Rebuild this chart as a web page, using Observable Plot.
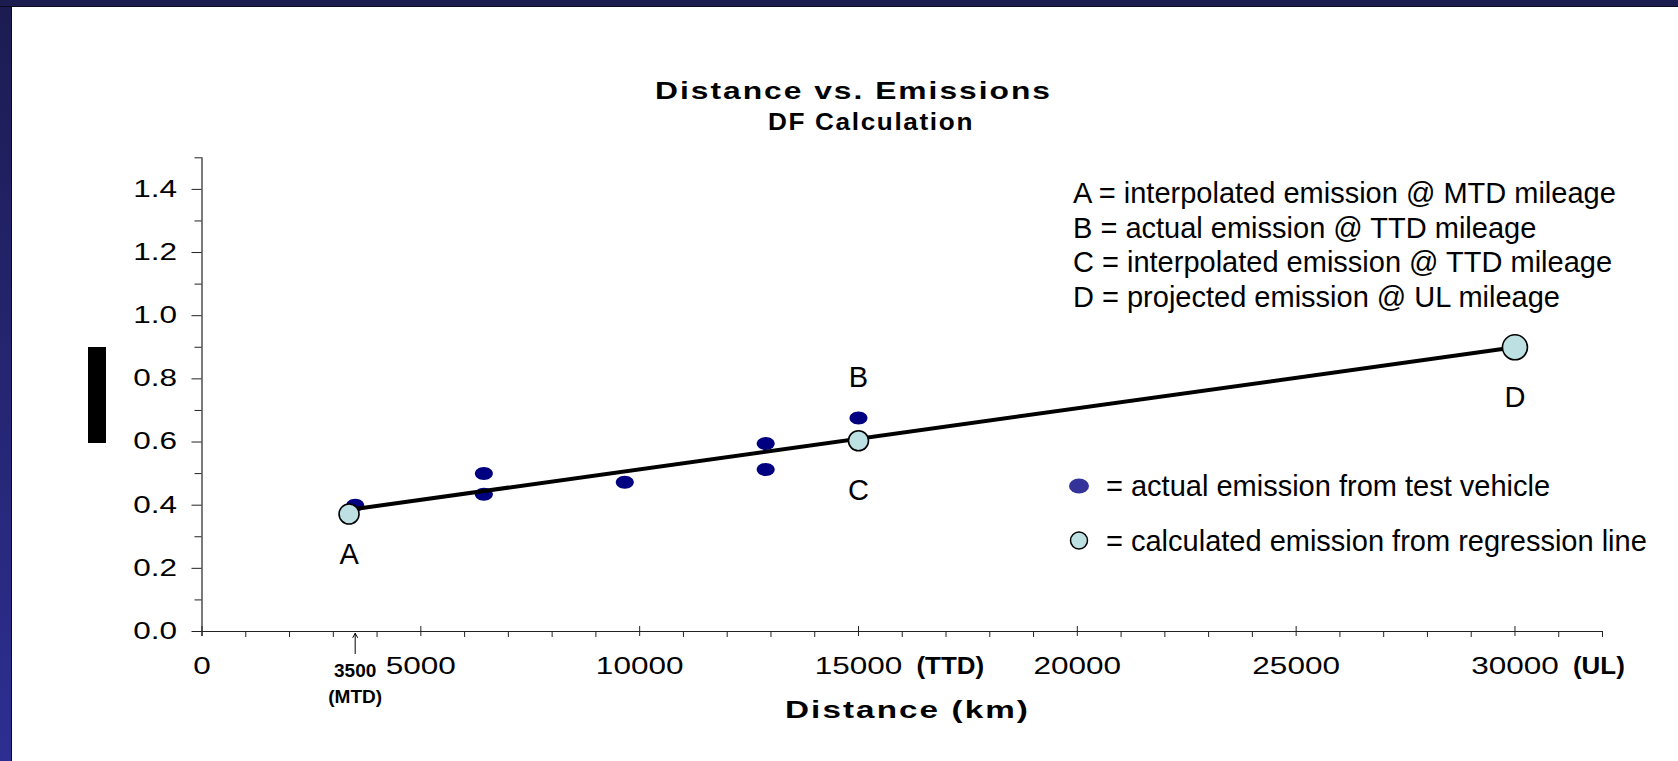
<!DOCTYPE html>
<html>
<head>
<meta charset="utf-8">
<script src="https://cdn.jsdelivr.net/npm/d3@7"></script>
<script src="https://cdn.jsdelivr.net/npm/@observablehq/plot@0.6"></script>
<style>
html, body { margin: 0; padding: 0; width: 1678px; height: 761px; overflow: hidden; background: #fff; font-family: "Liberation Sans", Arial, sans-serif; }
#frameLeft { position: absolute; left: 0; top: 0; width: 11px; height: 761px; background: linear-gradient(#1c1c52, #2e2e92); border-right: 1px solid #0a0a20; }
#frameTop { position: absolute; left: 0; top: 0; width: 1678px; height: 6px; background: #1c1c50; border-bottom: 1px solid #0a0a20; }
#chart { position: absolute; left: 12px; top: 7px; }
.abs { position: absolute; white-space: nowrap; display: inline-block; color: #000; }
.title { font-weight: bold; font-size: 24px; letter-spacing: 1.5px; line-height: 28px; }
.note { font-size: 29px; line-height: 34px; }
#ylabelBlock { position: absolute; left: 88px; top: 347px; width: 18px; height: 96px; background: #000; }
</style>
</head>
<body>
<div id="frameLeft"></div>
<div id="frameTop"></div>
<div id="chart"></div>
<div id="ylabelBlock"></div>
<div class="abs title" id="t1" style="left:655px; top:77px;">Distance vs. Emissions</div>
<div class="abs title" id="t2" style="left:768px; top:108px;">DF Calculation</div>
<div class="abs title" id="xlab" style="left:785px; top:696px;">Distance (km)</div>
<div id="notes"></div>
<svg id="legendSym" style="position:absolute;left:0;top:0;width:1678px;height:761px;pointer-events:none;overflow:visible"></svg>
<script>
// ---------- data ----------
const actualKm = [3500, 6440, 6440, 9660, 12880, 12880, 15000];
const actualEmission = [0.40, 0.50, 0.435, 0.473, 0.595, 0.513, 0.676];
const actualLabels = ["", "", "", "", "", "", "B"];

const calcLabels = ["A", "C", "D"];
const calcKm = [3360, 15000, 30000];
const calcEmission = [0.372, 0.604, 0.90];

const lineKm = [3500, 30000];
const lineEmission = [0.388, 0.90];

const milestoneKm = [3500, 15000, 30000];
const milestoneNames = ["MTD", "TTD", "UL"];

const xTicks = [0, 5000, 10000, 15000, 20000, 25000, 30000];
const xMinorTicks = d3.range(1000, 32001, 1000).filter(d => d % 5000 !== 0);
const yTicks = [0, 0.2, 0.4, 0.6, 0.8, 1.0, 1.2, 1.4];
const yMinorTicks = [0.1, 0.3, 0.5, 0.7, 0.9, 1.1, 1.3, 1.5];

const noteLines = [
  "A = interpolated emission @ MTD mileage",
  "B = actual emission @ TTD mileage",
  "C = interpolated emission @ TTD mileage",
  "D = projected emission @ UL mileage"
];
const legendLabels = ["= actual emission from test vehicle", "= calculated emission from regression line"];

// ---------- tables ----------
const actual = actualKm.map((x, i) => ({x, y: actualEmission[i], label: actualLabels[i]}));
const calc = calcKm.map((x, i) => ({x, y: calcEmission[i], label: calcLabels[i]}));
const regression = lineKm.map((x, i) => ({x, y: lineEmission[i]}));
const milestones = milestoneKm.map((x, i) => ({x, name: milestoneNames[i]}));

const ellipse = {
  draw(ctx) {
    const rx = 9, ry = 6.5, k = 0.5523;
    ctx.moveTo(rx, 0);
    ctx.bezierCurveTo(rx, ry * k, rx * k, ry, 0, ry);
    ctx.bezierCurveTo(-rx * k, ry, -rx, ry * k, -rx, 0);
    ctx.bezierCurveTo(-rx, -ry * k, -rx * k, -ry, 0, -ry);
    ctx.bezierCurveTo(rx * k, -ry, rx, -ry * k, rx, 0);
    ctx.closePath();
  }
};

const calcFill = "#bde0e3";
const axisColor = "#222";

const plot = Plot.plot({
  width: 1666,
  height: 754,
  marginLeft: 189.5,
  marginTop: 150.3,
  marginBottom: 130,
  marginRight: 76,
  style: {fontFamily: "'Liberation Sans', Arial, sans-serif", fontSize: "23px", color: "#000", background: "white", maxWidth: "none"},
  x: {domain: [0, 32000]},
  y: {domain: [0, 1.5]},
  marks: [
    // axes
    Plot.axisY(yTicks, {tickSize: 10, tickPadding: 15, tickFormat: d3.format(".1f"), label: null, stroke: axisColor, fontSize: 23}),
    Plot.axisY(yMinorTicks, {tickSize: 7, text: null, label: null, stroke: axisColor}),
    Plot.axisX(xTicks, {tickSize: 5, tickPadding: 21, tickFormat: d => String(d), label: null, stroke: axisColor, fontSize: 23}),
    Plot.axisX(xTicks, {tickSize: -5, text: null, label: null, stroke: axisColor}),
    Plot.axisX(xMinorTicks, {tickSize: 6, text: null, label: null, stroke: axisColor}),
    Plot.ruleY([0], {stroke: axisColor, strokeWidth: 1.2}),
    Plot.ruleX([0], {stroke: axisColor, strokeWidth: 1.2, insetBottom: -5}),
    // MTD marker below axis
    Plot.arrow(milestones.filter(d => d.name === "MTD"), {x1: "x", x2: "x", y1: -0.07, y2: -0.006, stroke: "black", strokeWidth: 1, headLength: 7}),
    Plot.text(milestones.filter(d => d.name === "MTD"), {x: "x", y: 0, text: d => String(d.x), dy: 39, fontWeight: "bold", fontSize: 19}),
    Plot.text(milestones.filter(d => d.name === "MTD"), {x: "x", y: 0, text: d => `(${d.name})`, dy: 65, fontWeight: "bold", fontSize: 19}),
    Plot.text(milestones.filter(d => d.name !== "MTD"), {x: "x", y: 0, text: d => `(${d.name})`, dx: 58, dy: 35, textAnchor: "start", fontWeight: "bold", fontSize: 24}),
    // data
    Plot.dot(actual, {x: "x", y: "y", symbol: ellipse, fill: "#000080", stroke: "none"}),
    Plot.line(regression, {x: "x", y: "y", stroke: "black", strokeWidth: 4}),
    Plot.dot(calc.filter(d => d.label !== "D"), {x: "x", y: "y", r: 10, fill: calcFill, stroke: "black", strokeWidth: 1.6}),
    Plot.dot(calc.filter(d => d.label === "D"), {x: "x", y: "y", r: 12.5, fill: calcFill, stroke: "black", strokeWidth: 1.6}),
    // point labels
    Plot.text(calc.filter(d => d.label === "A"), {x: "x", y: "y", text: "label", dy: 41, fontSize: 29}),
    Plot.text(calc.filter(d => d.label !== "A"), {x: "x", y: "y", text: "label", dy: 50, fontSize: 29}),
    Plot.text(actual.filter(d => d.label), {x: "x", y: "y", text: "label", dy: -40, fontSize: 29})
  ]
});
document.getElementById("chart").appendChild(plot);

// widen texts like the reference (glyph stretch via textLength)
function stretchTexts(texts, s) {
  texts.forEach(t => {
    const L = t.getComputedTextLength();
    if (L > 0) {
      t.setAttribute("textLength", (L * s).toFixed(1));
      t.setAttribute("lengthAdjust", "spacingAndGlyphs");
    }
  });
}
stretchTexts(plot.querySelectorAll('g[aria-label="x-axis tick label"] text'), 1.37);
stretchTexts(plot.querySelectorAll('g[aria-label="y-axis tick label"] text'), 1.37);
stretchTexts([...plot.querySelectorAll('g[aria-label="text"] text')].filter(t => t.textContent === "(TTD)" || t.textContent === "(UL)"), 1.08);

// notes
const notes = document.getElementById("notes");
const noteCenters = [193, 227.5, 262, 297];
noteLines.forEach((s, i) => {
  const d = document.createElement("div");
  d.className = "abs note";
  d.style.left = "1073px";
  d.style.top = (noteCenters[i] - 17) + "px";
  d.textContent = s;
  notes.appendChild(d);
});
const legendCenters = [486, 540.5];
legendLabels.forEach((s, i) => {
  const d = document.createElement("div");
  d.className = "abs note";
  d.style.left = "1106px";
  d.style.top = (legendCenters[i] - 17) + "px";
  d.textContent = s;
  notes.appendChild(d);
});
const ls = d3.select("#legendSym");
ls.append("ellipse").attr("cx", 1079).attr("cy", legendCenters[0]).attr("rx", 10).attr("ry", 7.5).attr("fill", "#333399");
ls.append("circle").attr("cx", 1079).attr("cy", legendCenters[1]).attr("r", 8.5).attr("fill", calcFill).attr("stroke", "#000").attr("stroke-width", 1.5);

function fitWidth(id, target) {
  const el = document.getElementById(id);
  const w = el.getBoundingClientRect().width;
  el.style.transformOrigin = "left center";
  el.style.transform = `scaleX(${target / w})`;
}
fitWidth("t1", 397);
fitWidth("t2", 206);
fitWidth("xlab", 245);
</script>
</body>
</html>
